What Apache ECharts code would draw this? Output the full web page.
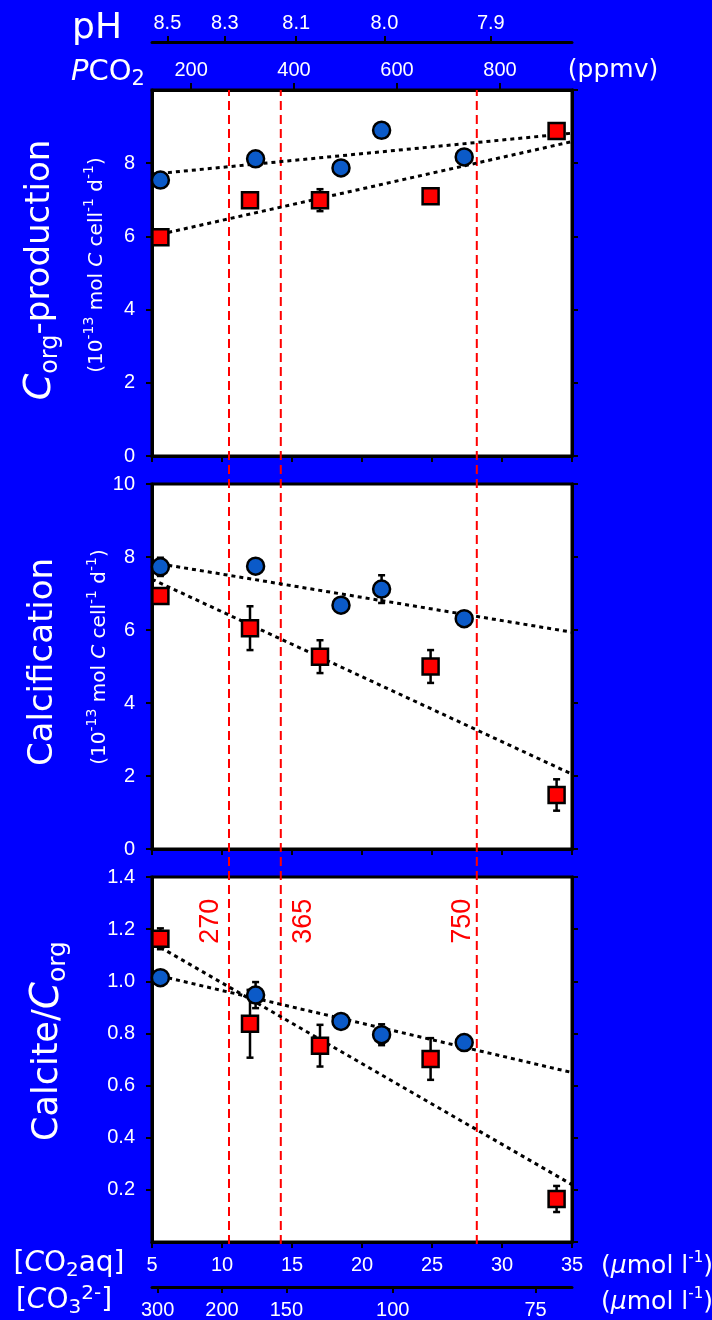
<!DOCTYPE html>
<html>
<head>
<meta charset="utf-8">
<script src="https://cdn.jsdelivr.net/npm/echarts@6/dist/echarts.min.js"></script>
<style>
  html, body { margin: 0; padding: 0; background: #0000ff; }
  #chart { width: 712px; height: 1320px; }
</style>
</head>
<body>
<div id="chart"></div>
<script>
// [CO2aq] (µmol l-1) of each culture, circles and squares
const circleCO2 = [5.6, 12.4, 18.5, 21.4, 27.3];
const squareCO2 = [5.6, 12.0, 17.0, 24.9, 33.9];

// Corg-production (10-13 mol C cell-1 d-1)
const corgCircle = [7.54, 8.12, 7.87, 8.90, 8.17];
const corgCircleErr = [0.10, 0.20, 0.10, 0.10, 0.10];
const corgSquare = [5.98, 6.99, 6.99, 7.10, 8.88];
const corgSquareErr = [0.10, 0.10, 0.30, 0.15, 0.17];

// Calcification (10-13 mol C cell-1 d-1)
const calcCircle = [7.73, 7.75, 6.68, 7.12, 6.31];
const calcCircleErr = [0.25, 0.15, 0.10, 0.38, 0.10];
const calcSquare = [6.93, 6.05, 5.27, 5.00, 1.48];
const calcSquareErr = [0.15, 0.60, 0.45, 0.45, 0.43];

// Calcite/Corg ratio
const ratioCircle = [1.014, 0.947, 0.846, 0.795, 0.765];
const ratioCircleErr = [0.02, 0.05, 0.02, 0.04, 0.02];
const ratioSquare = [1.163, 0.837, 0.753, 0.702, 0.165];
const ratioSquareErr = [0.04, 0.13, 0.08, 0.08, 0.05];

// dotted regression lines, [CO2aq, value] at each end
const corgCircleFit = [[5.0, 7.70], [35, 8.82]];
const corgSquareFit = [[5.6, 6.06], [35, 8.59]];
const calcCircleFit = [[5.6, 7.81], [35, 5.94]];
const calcSquareFit = [[5.0, 7.39], [35, 2.05]];
const ratioCircleFit = [[5.6, 1.02], [35, 0.65]];
const ratioSquareFit = [[5.6, 1.13], [35, 0.22]];

// atmospheric pCO2 reference levels (ppmv) and their [CO2aq]
const refPCO2 = ['270', '365', '750'];
const refCO2aq = [10.5, 14.2, 28.2];

// secondary scales
const pco2Range = [124, 940];
const pco2Ticks = [200, 400, 600, 800];
const phLabels = ['8.5', '8.3', '8.1', '8.0', '7.9'];
const phAtCO2aq = [6.1, 10.2, 15.3, 21.6, 29.2];
const co3Labels = ['300', '200', '150', '100', '75'];
const co3AtCO2aq = [5.4, 10.0, 14.6, 22.2, 32.4];

// ---- layout and styles ----
const WHITE = '#ffffff';
const BLACK = '#000000';
const CIRCLE_FILL = '#0b5ac8';
const SQUARE_FILL = '#ff0000';
const NUM_FONT = 'Liberation Sans';
const TXT_FONT = 'DejaVu Sans';
const L = 152, R = 140;
const refLabelDx = [-18, 23, -14];
const refLabelY = 1.23;

const axisLine = { show: true, onZero: false, lineStyle: { color: BLACK, width: 3 } };
const tick = (len) => ({ show: true, inside: false, length: len, lineStyle: { color: BLACK, width: 2 } });
const numLabel = (extra) => Object.assign({ color: WHITE, fontSize: 20, fontFamily: NUM_FONT }, extra);

function co2Axis(gridIndex, showLabels) {
  return {
    type: 'value', gridIndex, position: 'bottom', min: 5, max: 35, interval: 5,
    axisLine, axisTick: tick(6), splitLine: { show: false },
    axisLabel: showLabels ? numLabel({ margin: 13 }) : { show: false }
  };
}
function yAxes(gridIndex, max, interval, labelOpts) {
  return [
    {
      type: 'value', gridIndex, position: 'left', min: 0, max, interval,
      axisLine, axisTick: tick(6), splitLine: { show: false },
      axisLabel: numLabel(Object.assign({ margin: 17 }, labelOpts))
    },
    {
      type: 'value', gridIndex, position: 'right', min: 0, max, interval,
      axisLine, axisTick: tick(6), splitLine: { show: false }, axisLabel: { show: false }
    }
  ];
}

function errorBars(xAxisIndex, yAxisIndex, xs, ys, errs) {
  return {
    type: 'custom', xAxisIndex, yAxisIndex, z: 3, silent: true,
    data: xs.map((x, i) => [x, ys[i], errs[i]]),
    renderItem(params, api) {
      const x = api.value(0), y = api.value(1), e = api.value(2);
      const top = api.coord([x, y + e]);
      const bot = api.coord([x, y - e]);
      const w = 3.5;
      const st = { stroke: BLACK, lineWidth: 2.5 };
      return {
        type: 'group',
        children: [
          { type: 'line', shape: { x1: top[0], y1: top[1], x2: bot[0], y2: bot[1] }, style: st },
          { type: 'line', shape: { x1: top[0] - w, y1: top[1], x2: top[0] + w, y2: top[1] }, style: st },
          { type: 'line', shape: { x1: bot[0] - w, y1: bot[1], x2: bot[0] + w, y2: bot[1] }, style: st }
        ]
      };
    }
  };
}
function fitLine(xAxisIndex, yAxisIndex, pts) {
  return {
    type: 'line', xAxisIndex, yAxisIndex, z: 2, silent: true, symbol: 'none',
    data: pts, lineStyle: { color: BLACK, width: 3, type: [4, 4] }
  };
}
function markers(xAxisIndex, yAxisIndex, xs, ys, shape) {
  const isCircle = shape === 'circle';
  return {
    type: 'scatter', xAxisIndex, yAxisIndex, z: 4, silent: true,
    symbol: shape, symbolSize: isCircle ? 17 : 16,
    itemStyle: { color: isCircle ? CIRCLE_FILL : SQUARE_FILL, borderColor: BLACK, borderWidth: 2.5, opacity: 1 },
    data: xs.map((x, i) => [x, ys[i]])
  };
}
function panel(xi, yi, cv, ce, cf, sv, se, sf) {
  return [
    fitLine(xi, yi, cf), fitLine(xi, yi, sf),
    errorBars(xi, yi, circleCO2, cv, ce), errorBars(xi, yi, squareCO2, sv, se),
    markers(xi, yi, circleCO2, cv, 'circle'), markers(xi, yi, squareCO2, sv, 'rect')
  ];
}

const series = [
  // vertical pCO2 reference lines across all three panels
  ...refCO2aq.map(x => ({
    type: 'line', xAxisIndex: 6, yAxisIndex: 6, z: 1, silent: true, symbol: 'none',
    data: [[x, 0], [x, 1]], lineStyle: { color: '#ff0000', width: 2, type: [9, 5] }
  })),
  ...panel(0, 0, corgCircle, corgCircleErr, corgCircleFit, corgSquare, corgSquareErr, corgSquareFit),
  ...panel(3, 2, calcCircle, calcCircleErr, calcCircleFit, calcSquare, calcSquareErr, calcSquareFit),
  ...panel(4, 4, ratioCircle, ratioCircleErr, ratioCircleFit, ratioSquare, ratioSquareErr, ratioSquareFit)
];

const gridBase = { left: L, right: R, show: true, backgroundColor: WHITE, borderColor: BLACK, borderWidth: 3 };

const option = {
  backgroundColor: '#0000ff',
  animation: false,
  grid: [
    Object.assign({ top: 90, height: 366 }, gridBase),
    Object.assign({ top: 484, height: 365 }, gridBase),
    Object.assign({ top: 877, height: 367 }, gridBase),
    { left: L, right: R, top: 90, height: 1154, show: false }
  ],
  xAxis: [
    co2Axis(0, false),
    {
      type: 'value', gridIndex: 0, position: 'top', min: pco2Range[0], max: pco2Range[1],
      axisLine, splitLine: { show: false },
      axisTick: Object.assign(tick(7), { customValues: pco2Ticks }),
      axisLabel: numLabel({ margin: 10, customValues: pco2Ticks })
    },
    {
      type: 'value', gridIndex: 0, position: 'top', offset: 48, min: 5, max: 35,
      axisLine, splitLine: { show: false },
      axisTick: Object.assign(tick(6), { customValues: phAtCO2aq }),
      axisLabel: numLabel({
        margin: 9, customValues: phAtCO2aq,
        formatter: v => phLabels[phAtCO2aq.indexOf(v)]
      })
    },
    co2Axis(1, false),
    co2Axis(2, true),
    {
      type: 'value', gridIndex: 2, position: 'bottom', offset: 45, min: 5, max: 35,
      axisLine, splitLine: { show: false },
      axisTick: Object.assign(tick(6), { customValues: co3AtCO2aq }),
      axisLabel: numLabel({
        margin: 13, customValues: co3AtCO2aq,
        formatter: v => co3Labels[co3AtCO2aq.indexOf(v)]
      })
    },
    { type: 'value', gridIndex: 3, min: 5, max: 35, show: false }
  ],
  yAxis: [
    ...yAxes(0, 10, 2, { showMaxLabel: false }),
    ...yAxes(1, 10, 2, {}),
    ...yAxes(2, 1.4, 0.2, { showMinLabel: false, formatter: v => v.toFixed(1) }),
    { type: 'value', gridIndex: 3, min: 0, max: 1, show: false }
  ],
  series,
  graphic: []
};

// axis titles
const t = (size, extra) => Object.assign({ fill: WHITE, fontSize: size, fontFamily: TXT_FONT }, extra);
const supRich = {
  s: t(20, { lineHeight: 30, verticalAlign: 'middle' }),
  i: t(20, { lineHeight: 30, verticalAlign: 'middle', fontStyle: 'italic' }),
  up: t(14, { lineHeight: 18, verticalAlign: 'top' })
};
const unitsText = '{s|(10}{up|-13}{s| mol }{i|C}{s| cell}{up|-1}{s| d}{up|-1}{s|)}';
const corgRich = (size) => ({
  c: t(size + 4, { fontStyle: 'italic', lineHeight: 46, verticalAlign: 'middle' }),
  sub: t(Math.round(size * 0.7), { lineHeight: 24, verticalAlign: 'bottom' }),
  m: t(size, { lineHeight: 46, verticalAlign: 'middle' })
});
function vText(x, y, text, rich) {
  return { type: 'text', x, y, rotation: Math.PI / 2, silent: true,
    style: { text, rich, align: 'center', verticalAlign: 'middle', fill: WHITE } };
}
function hText(x, y, text, rich) {
  return { type: 'text', x, y, silent: true,
    style: { text, rich, align: 'center', verticalAlign: 'middle', fill: WHITE } };
}
const unitRich = {
  m: t(25, { lineHeight: 30, verticalAlign: 'middle' }),
  c: t(25, { fontStyle: 'italic', lineHeight: 30, verticalAlign: 'middle' }),
  up: t(15, { lineHeight: 18, verticalAlign: 'top' })
};
option.graphic = [
  vText(40, 270, '{c|C}{sub|org}{m|-production}', corgRich(34)),
  vText(97, 265, unitsText, supRich),
  vText(43, 662, '{m|Calcification}', corgRich(34)),
  vText(100, 657, unitsText, supRich),
  vText(48, 1041, '{m|Calcite/}{c|C}{sub|org}', corgRich(35)),
  hText(97, 29, '{m|pH}', { m: t(36, {}) }),
  hText(108, 72, '{c|P}{m|CO}{sub|2}', {
    c: t(29, { fontStyle: 'italic', lineHeight: 36, verticalAlign: 'middle' }),
    m: t(29, { lineHeight: 36, verticalAlign: 'middle' }),
    sub: t(21, { lineHeight: 20, verticalAlign: 'bottom' })
  }),
  hText(613, 70, '{m|(ppmv)}', { m: t(25, {}) }),
  hText(69, 1264, '{m|[}{c|C}{m|O}{sub|2}{m|aq]}', {
    m: t(28, { lineHeight: 34, verticalAlign: 'middle' }),
    c: t(28, { fontStyle: 'italic', lineHeight: 34, verticalAlign: 'middle' }),
    sub: t(20, { lineHeight: 18, verticalAlign: 'bottom' })
  }),
  hText(64, 1301, '{m|[}{c|C}{m|O}{sub|3}{up|2-}{m|]}', {
    m: t(28, { lineHeight: 34, verticalAlign: 'middle' }),
    c: t(28, { fontStyle: 'italic', lineHeight: 34, verticalAlign: 'middle' }),
    sub: t(20, { lineHeight: 18, verticalAlign: 'bottom' }),
    up: t(20, { lineHeight: 22, verticalAlign: 'top' })
  }),
  hText(657, 1266, '{m|(}{c|µ}{m|mol l}{up|-1}{m|)}', unitRich),
  hText(657, 1302, '{m|(}{c|µ}{m|mol l}{up|-1}{m|)}', unitRich)
];

const chart = echarts.init(document.getElementById('chart'), null, { renderer: 'canvas' });
chart.setOption(option);

// pCO2 level labels beside the reference lines, placed through the ratio panel's scales
const refLabels = refCO2aq.map((x, i) => {
  const p = chart.convertToPixel({ xAxisIndex: 4, yAxisIndex: 4 }, [x, refLabelY]);
  return {
    type: 'text', x: p[0] + refLabelDx[i], y: p[1], rotation: Math.PI / 2, silent: true, z: 10,
    style: {
      text: refPCO2[i], fill: '#ff0000', fontSize: 27, fontFamily: NUM_FONT,
      align: 'center', verticalAlign: 'middle'
    }
  };
});
chart.setOption({ graphic: option.graphic.concat(refLabels) });
</script>
</body>
</html>
